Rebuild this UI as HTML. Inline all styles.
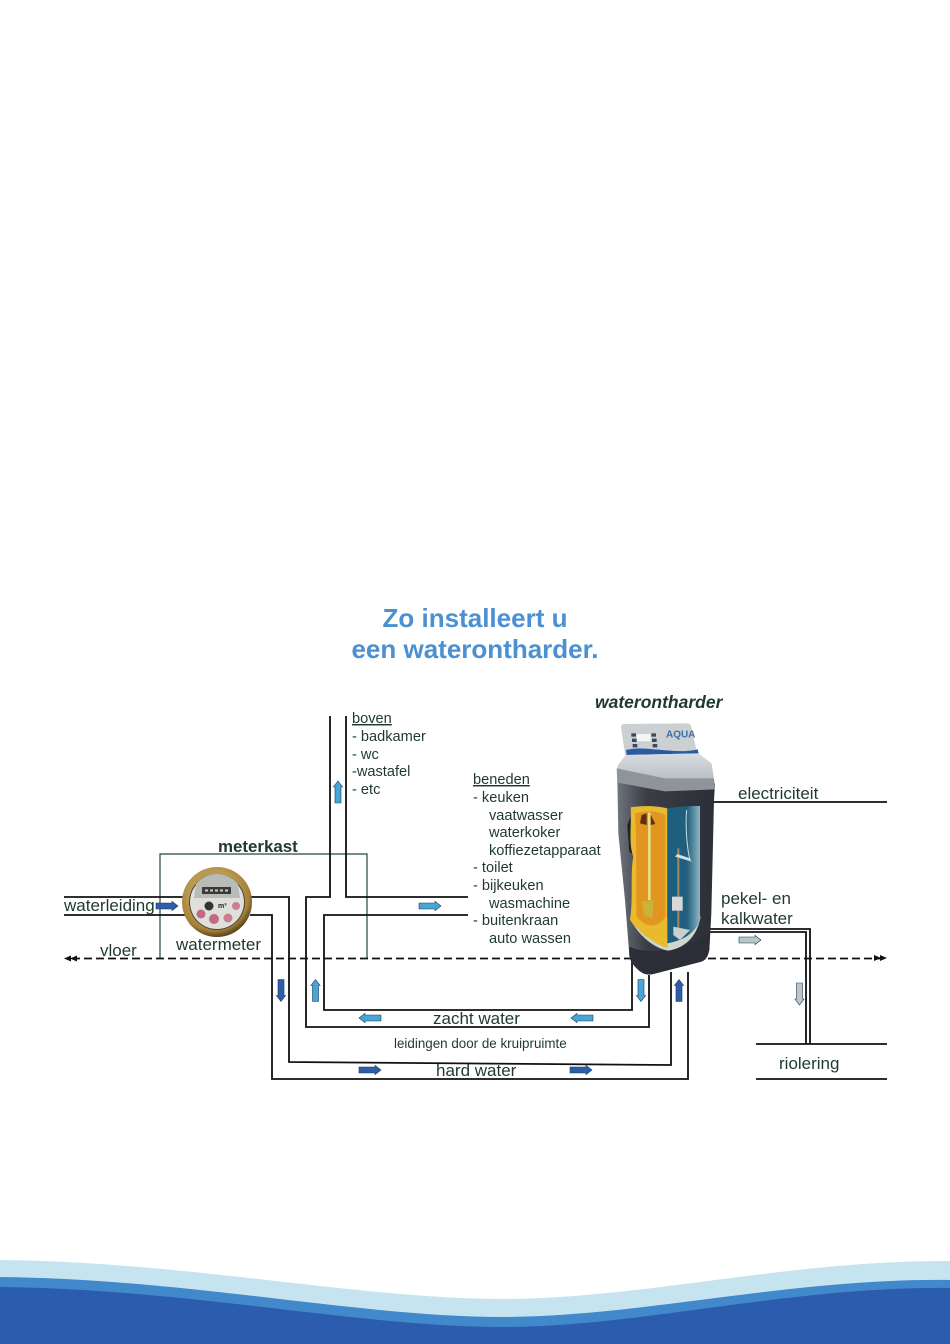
<!DOCTYPE html>
<html lang="nl">
<head>
<meta charset="utf-8">
<title>Zo installeert u een waterontharder</title>
<style>
html,body{margin:0;padding:0;background:#fff;}
svg{display:block;}
text{font-family:"Liberation Sans",sans-serif;fill:#1f3a2c;}
.t{font-size:14.6px;}
.l{font-size:17px;}
.p{fill:none;stroke:#111;stroke-width:1.8;}
.k{fill:none;stroke:#234a30;stroke-width:1.2;}
</style>
</head>
<body>
<svg xmlns="http://www.w3.org/2000/svg" width="950" height="1344" viewBox="0 0 950 1344">
<defs>
<path id="a" d="M-11-3H5V-4.600L11 0 5 4.600V3H-11Z"/>
<radialGradient id="g" cx="45%" cy="40%" r="60%"><stop offset="0.6" stop-color="#b89a52"/><stop offset="0.85" stop-color="#a57f38"/><stop offset="1" stop-color="#5a4420"/></radialGradient>
<linearGradient id="bd" x1="0" x2="1" y1="0" y2="0"><stop offset="0" stop-color="#70757d"/><stop offset="0.14" stop-color="#555962"/><stop offset="0.3" stop-color="#3a3d45"/><stop offset="1" stop-color="#2c2f37"/></linearGradient>
<linearGradient id="lid" x1="0" x2="0" y1="0" y2="1"><stop offset="0" stop-color="#d6dce0"/><stop offset="1" stop-color="#b9bfc4"/></linearGradient>
<linearGradient id="w" x1="0" x2="1" y1="0" y2="0"><stop offset="0" stop-color="#1c5f80"/><stop offset="0.6" stop-color="#215f7c"/><stop offset="1" stop-color="#8db7c4"/></linearGradient>
</defs>

<rect width="950" height="1344" fill="#fff"/>

<!-- waves -->
<path d="M0 1260C190 1262 360 1299 503 1299 640 1299 790 1260 950 1261V1344H0Z" fill="#c5e4ef"/>
<path d="M0 1277C190 1279 360 1317 503 1317 640 1317 790 1278 950 1280V1344H0Z" fill="#4189cb"/>
<path d="M0 1287C190 1289 360 1327 503 1327 640 1327 790 1286 950 1288V1344H0Z" fill="#2b5cae"/>

<!-- title -->
<text x="475" y="627" text-anchor="middle" font-size="26" font-weight="bold" style="fill:#4a90d2">Zo installeert u</text>
<text x="475" y="658" text-anchor="middle" font-size="26" font-weight="bold" style="fill:#4a90d2">een waterontharder.</text>

<!-- meter cabinet -->
<path class="k" d="M160 958V854H367V958"/>

<!-- pipes -->
<path class="p" d="M64 897H185M64 915H185"/>
<path class="p" d="M250 897H289V1062L671 1065V972"/>
<path class="p" d="M250 915H272V1079H688V972"/>
<path class="p" d="M330 716V897H306V1027H649V975"/>
<path class="p" d="M346 716V897H468"/>
<path class="p" d="M468 915H324V1010H632V958"/>
<path class="p" d="M712 802H887"/>
<path class="p" d="M708 929H810V1044M708 932H806V1044"/>
<path class="p" d="M756 1044H887M756 1079H887"/>

<!-- floor -->
<path d="M72 958.500H880" fill="none" stroke="#111" stroke-width="1.8" stroke-dasharray="8 4"/>
<path d="M64 958.500L71 955.500V961.500ZM70 958.500L77 955.500V961.500Z" fill="#111"/>
<path d="M887 958L880 955V961ZM881 958L874 955V961Z" fill="#111"/>

<!-- arrows -->
<g stroke="#1f3a5c" stroke-width=".6">
<use href="#a" transform="translate(167 906)" fill="#2f5ea8"/>
<use href="#a" transform="translate(281 990.500) rotate(90)" fill="#2f5ea8"/>
<use href="#a" transform="translate(370 1070)" fill="#2f5ea8"/>
<use href="#a" transform="translate(581 1070)" fill="#2f5ea8"/>
<use href="#a" transform="translate(679 990.500) rotate(-90)" fill="#2f5ea8"/>
<use href="#a" transform="translate(338 792) rotate(-90)" fill="#46a6d6"/>
<use href="#a" transform="translate(430 906)" fill="#46a6d6"/>
<use href="#a" transform="translate(315.500 990.500) rotate(-90)" fill="#46a6d6"/>
<use href="#a" transform="translate(370 1018) rotate(180)" fill="#46a6d6"/>
<use href="#a" transform="translate(582 1018) rotate(180)" fill="#46a6d6"/>
<use href="#a" transform="translate(641 990.500) rotate(90)" fill="#46a6d6"/>
<use href="#a" transform="translate(750 940)" fill="#b9c8c0"/>
<use href="#a" transform="translate(799.500 994) rotate(90)" fill="#c0c6c2"/>
</g>

<!-- water meter -->
<circle cx="217" cy="902" r="35" fill="url(#g)"/>
<circle cx="217" cy="902" r="28" fill="#4f4430"/>
<circle cx="217" cy="902" r="27" fill="#dfe0dc"/>
<path d="M196 884A27 27 0 0 1 238 884L240 898H194Z" fill="#b9bbb6"/>
<rect x="202" y="887" width="29" height="7" fill="#3a3a3a"/>
<path d="M205 890.500H228" stroke="#ccc" stroke-width="2" stroke-dasharray="3 2"/>
<circle cx="209" cy="906" r="4.500" fill="#333"/>
<circle cx="201" cy="914" r="4.500" fill="#c26a80"/>
<circle cx="214" cy="919" r="5" fill="#c26a80"/>
<circle cx="228" cy="918" r="4.500" fill="#c9808f"/>
<circle cx="236" cy="906" r="4" fill="#c9808f"/>
<text x="218" y="908" font-size="7" font-weight="bold" style="fill:#222">m³</text>

<!-- softener -->
<g transform="translate(590 700) scale(.33333)">
<path d="M82 240L375 250 372 300 364 640 358 750C352 775 345 782 330 786L190 822C165 828 150 815 140 805 125 790 120 780 118 765L105 600 85 400Z" fill="url(#bd)"/>
<path d="M118 740C180 770 280 745 360 700L358 750C352 775 345 782 330 786L190 822C165 828 150 815 140 805 125 790 120 780 118 765Z" fill="#2b2e36"/>
<path d="M103 72Q93 72 93 82L107 175H325L303 78Q300 70 292 70Z" fill="#ccd0d2"/>
<path d="M108 150C170 135 250 165 323 148L326 160 110 165Z" fill="#2a5aa0"/>
<rect x="140" y="102" width="42" height="22" fill="#f4f6f6"/>
<path d="M124 100h14v10h-14zM126 116h14v10h-14zM128 132h14v10h-14zM184 100h14v10h-14zM186 116h14v10h-14zM188 132h14v10h-14z" fill="#3b4a60"/>
<text x="228" y="112" font-size="30" font-weight="bold" style="fill:#3e6ea8">AQUA</text>
<path d="M107 165L325 160 365 190 372 238 225 240 80 210 84 195Z" fill="url(#lid)"/>
<path d="M80 205L225 235 372 235 375 268 225 274 82 248Z" fill="#8f9499"/>
<path d="M112 375L124 345 135 470 118 455Z" fill="#1e2026"/>
<path d="M120 655C140 700 190 745 235 752 280 745 320 715 332 650Z" fill="#cdd6cf"/>
<path d="M122 322C170 315 210 320 232 325V745C210 735 160 715 120 660 130 600 120 520 130 470 115 430 125 380 122 322Z" fill="#e8bb2e"/>
<path d="M135 340C175 330 210 335 226 345V650C200 690 165 680 140 650 136 560 142 450 135 340Z" fill="#e2961f"/>
<path d="M155 345L170 340V375L150 370ZM180 340L196 372 182 375Z" fill="#5f2f12"/>
<path d="M174 338H182V600H174Z" fill="#e8dc80"/>
<path d="M155 605L190 600 188 655 162 645Z" fill="#c9b43a"/>
<path d="M232 325C265 320 300 318 330 318V660C320 690 290 720 232 730Z" fill="url(#w)"/>
<path d="M262 445H268V690H262Z" fill="#9a8a6c"/>
<path d="M255 470L305 485 300 475 262 462Z" fill="#cfe0df"/>
<rect x="246" y="590" width="32" height="42" fill="#d8d8d6"/>
<path d="M250 680L300 690 270 720 250 705Z" fill="#c9d0cc"/>
<path d="M290 330C285 380 292 450 300 480" fill="none" stroke="#bfe0e6" stroke-width="3"/>
</g>

<!-- labels -->
<text x="352" y="723" class="t" text-decoration="underline">boven</text>
<text x="352" y="741" class="t">- badkamer</text>
<text x="352" y="759" class="t">- wc</text>
<text x="352" y="776" class="t">-wastafel</text>
<text x="352" y="794" class="t">- etc</text>
<text x="473" y="784" class="t" text-decoration="underline">beneden</text>
<text x="473" y="802" class="t">- keuken</text>
<text x="489" y="820" class="t">vaatwasser</text>
<text x="489" y="837" class="t">waterkoker</text>
<text x="489" y="855" class="t">koffiezetapparaat</text>
<text x="473" y="872" class="t">- toilet</text>
<text x="473" y="890" class="t">- bijkeuken</text>
<text x="489" y="908" class="t">wasmachine</text>
<text x="473" y="925" class="t">- buitenkraan</text>
<text x="489" y="943" class="t">auto wassen</text>

<text x="595" y="708" font-size="17.500" font-weight="bold" font-style="italic">waterontharder</text>
<text x="218" y="852" font-size="16.900" font-weight="bold">meterkast</text>
<text x="64" y="911" class="l">waterleiding</text>
<text x="176" y="950" class="l">watermeter</text>
<text x="100" y="956" class="l">vloer</text>
<text x="738" y="799" class="l">electriciteit</text>
<text x="721" y="904" class="l">pekel- en</text>
<text x="721" y="924" class="l">kalkwater</text>
<text x="779" y="1069" class="l">riolering</text>
<text x="433" y="1024" class="l">zacht water</text>
<text x="436" y="1076" class="l">hard water</text>
<text x="394" y="1048" font-size="13.400">leidingen door de kruipruimte</text>
</svg>
</body>
</html>
